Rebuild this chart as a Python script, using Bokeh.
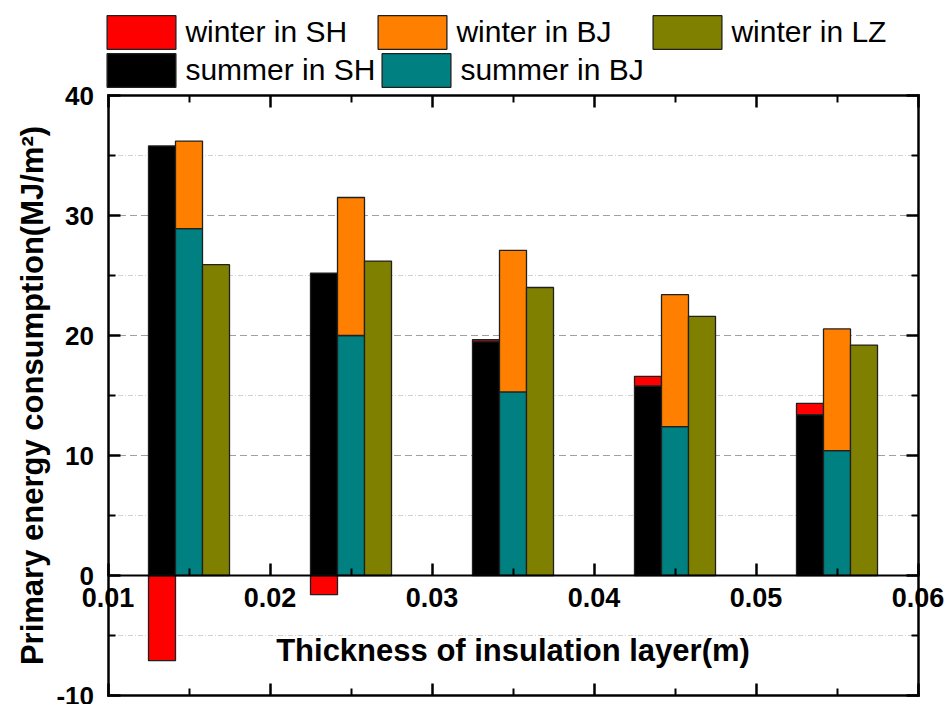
import math
from bokeh.plotting import figure
from bokeh.models import (Range1d, LinearAxis, FixedTicker, PrintfTickFormatter,
                          Legend, LegendItem, ColumnDataSource, Label)
from bokeh.transform import dodge
from bokeh.embed import file_html
from bokeh.resources import INLINE

# ---- data ----
thickness = [0.015, 0.025, 0.035, 0.045, 0.055]
summer_SH = [35.8, 25.2, 19.5, 15.8, 13.4]
winter_SH = [-7.1, -1.6, 0.15, 0.8, 0.95]
summer_BJ = [28.9, 20.0, 15.3, 12.4, 10.4]
winter_BJ = [7.3, 11.5, 11.8, 11.0, 10.15]
winter_LZ = [25.9, 26.2, 24.0, 21.6, 19.2]

x_ticks = [0.01, 0.02, 0.03, 0.04, 0.05, 0.06]
x_minor = [0.015, 0.025, 0.035, 0.045, 0.055]
y_ticks = [-10, 0, 10, 20, 30, 40]
y_minor = [-5, 5, 15, 25, 35]
y_grid_major = [10, 20, 30]
legend_labels = ["winter in SH", "winter in BJ", "winter in LZ",
                 "summer in SH", "summer in BJ"]
x_title = "Thickness of insulation layer(m)"
y_title = "Primary energy consumption(MJ/m²)"

# ---- derived stacking ----
wSH_bot = [s if w > 0 else 0 for s, w in zip(summer_SH, winter_SH)]
wSH_top = [b + w for b, w in zip(wSH_bot, winter_SH)]
wBJ_top = [s + w for s, w in zip(summer_BJ, winter_BJ)]

src = ColumnDataSource(dict(
    x=thickness, zero=[0] * len(thickness),
    sSH=summer_SH, wSH_bot=wSH_bot, wSH_top=wSH_top,
    sBJ=summer_BJ, wBJ_top=wBJ_top, wLZ=winter_LZ))

# ---- layout (pixels) ----
W, H = 945, 704
BOX_L, BOX_R, BOX_T, BOX_B = 107.5, 917.5, 95.0, 695.0
x_lo, x_hi = x_ticks[0], x_ticks[-1]
y_lo, y_hi = y_ticks[0], y_ticks[-1]
kx = (BOX_R - BOX_L) / (x_hi - x_lo)
ky = (BOX_B - BOX_T) / (y_hi - y_lo)

FONT = "Liberation Sans"
bw = (x_ticks[1] - x_ticks[0]) / 6.0

p = figure(width=W, height=H, output_backend="svg", toolbar_location=None,
           x_range=Range1d(x_lo - BOX_L / kx, x_hi + (W - BOX_R) / kx),
           y_range=Range1d(y_lo - (H - BOX_B) / ky, y_hi + BOX_T / ky),
           x_axis_location=None, y_axis_location=None, min_border=0)
p.background_fill_color = "white"
p.border_fill_color = "white"
p.outline_line_color = None
for g in p.grid:
    g.visible = False

# ---- grid lines (under the bars) ----
p.segment(x0=[x_lo] * len(y_minor), x1=[x_hi] * len(y_minor), y0=y_minor, y1=y_minor,
          line_color="#d2d2d2", line_width=1, line_dash="5 2 1 2")
p.segment(x0=[x_lo] * len(y_grid_major), x1=[x_hi] * len(y_grid_major),
          y0=y_grid_major, y1=y_grid_major,
          line_color="#a0a0a0", line_width=1, line_dash="7 4")

# ---- bars ----
edge = dict(line_color="#202020", line_width=1.3)
r_sSH = p.vbar(x=dodge("x", -bw, range=None), width=bw, bottom="zero", top="sSH",
               fill_color="#000000", source=src, **edge)
r_wSH = p.vbar(x=dodge("x", -bw, range=None), width=bw, bottom="wSH_bot", top="wSH_top",
               fill_color="#ff0000", source=src, **edge)
r_sBJ = p.vbar(x="x", width=bw, bottom="zero", top="sBJ",
               fill_color="#008080", source=src, **edge)
r_wBJ = p.vbar(x="x", width=bw, bottom="sBJ", top="wBJ_top",
               fill_color="#ff8000", source=src, **edge)
r_wLZ = p.vbar(x=dodge("x", bw, range=None), width=bw, bottom="zero", top="wLZ",
               fill_color="#808000", source=src, **edge)


# ---- axes (fixed, bounded to the plot box) ----
def make_axis(side, loc, ticks, minor, bounds, labels, fmt, size="26px", lw=2.5):
    ax = LinearAxis(fixed_location=loc, bounds=bounds,
                    ticker=FixedTicker(ticks=ticks, minor_ticks=minor),
                    formatter=PrintfTickFormatter(format=fmt))
    ax.axis_line_color = "black"
    ax.axis_line_width = lw
    ax.axis_line_cap = "square"
    ax.major_tick_in = 12
    ax.major_tick_out = 0
    ax.minor_tick_in = 7
    ax.minor_tick_out = 0
    ax.major_tick_line_width = 2.5
    ax.minor_tick_line_width = 2
    ax.major_tick_line_color = "black"
    ax.minor_tick_line_color = "black"
    ax.major_label_text_font = FONT
    ax.major_label_text_font_style = "bold"
    ax.major_label_text_color = "black"
    ax.major_label_text_font_size = size
    if not labels:
        ax.major_label_overrides = {t: "" for t in ticks}
    p.add_layout(ax, side)
    return ax


xbounds = (x_lo, x_hi)
ybounds = (y_lo, y_hi)
ax0 = make_axis("below", 0, x_ticks, x_minor, xbounds, True, "%.2f", size="27px", lw=2)
ax0.major_label_standoff = 12
make_axis("below", y_lo, x_ticks, x_minor, xbounds, False, "%.2f")
make_axis("above", y_hi, x_ticks, x_minor, xbounds, False, "%.2f")
axl = make_axis("left", x_lo, y_ticks, y_minor, ybounds, True, "%d", size="26px")
axl.major_label_standoff = 14
make_axis("right", x_hi, y_ticks, y_minor, ybounds, False, "%d")

# ---- axis titles ----
p.add_layout(Label(x=(x_lo + x_hi) / 2, y=0, y_offset=-75, text=x_title,
                   text_align="center", text_baseline="alphabetic",
                   text_font=FONT, text_font_style="bold", text_font_size="31px",
                   text_color="black"))
p.add_layout(Label(x=x_lo, y=(y_lo + y_hi) / 2, x_offset=-76, text=y_title,
                   angle=math.pi / 2, text_align="center", text_baseline="alphabetic",
                   text_font=FONT, text_font_style="bold", text_font_size="31px",
                   text_color="black"))

# ---- legend: one single-item legend per entry ----
renderers = [r_wSH, r_wBJ, r_wLZ, r_sSH, r_sBJ]
locations = [(98.4, 650.75), (369.4, 650.75), (644.4, 650.75),
             (98.4, 612.75), (373.4, 612.75)]
for lab, rr, loc in zip(legend_labels, renderers, locations):
    lg = Legend(items=[LegendItem(label=lab, renderers=[rr])], location=loc,
                glyph_width=86, glyph_height=42, label_height=42,
                label_text_font=FONT, label_text_font_size="30px",
                label_text_color="black", label_standoff=1,
                padding=0, margin=0, spacing=0,
                border_line_color=None, background_fill_alpha=0)
    p.add_layout(lg, "center")

open("out.html", "w").write(file_html(p, INLINE))
